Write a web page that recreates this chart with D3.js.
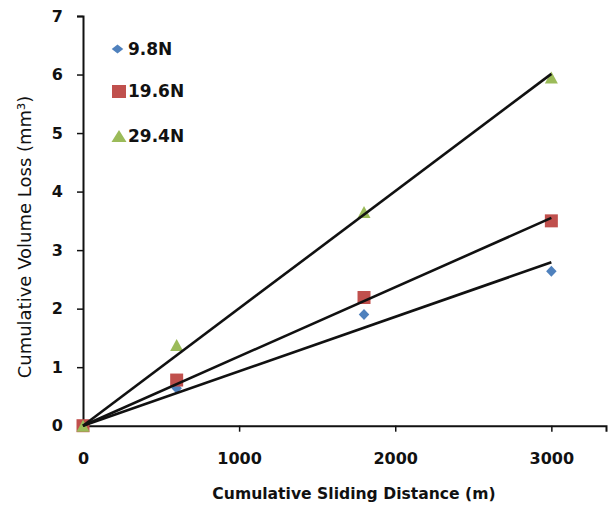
<!DOCTYPE html>
<html>
<head>
<meta charset="utf-8">
<script src="https://cdn.jsdelivr.net/npm/d3@7"></script>
<style>
  html, body { margin: 0; padding: 0; background: #fff; }
  svg { display: block; }
  text { font-family: "DejaVu Sans", "Liberation Sans", sans-serif; fill: #111; }
</style>
</head>
<body>
<svg id="chart" width="609" height="508"></svg>
<script>
// Cumulative volume loss against sliding distance for three normal loads
const distances = [0, 600, 1800, 3000];
const loadLabels = ["9.8N", "19.6N", "29.4N"];
const loss98 = [0, 0.64, 1.90, 2.64];
const loss196 = [0, 0.78, 2.19, 3.50];
const loss294 = [0, 1.38, 3.65, 5.95];
const xTicks = [0, 1000, 2000, 3000];
const yTicks = [0, 1, 2, 3, 4, 5, 6, 7];

const colors = ["#4F81BD", "#C0504D", "#9BBB59"];

// marker drawers: diamond (rotated square), square, triangle
function markerPath(kind, w, h) {
  const p = d3.path();
  if (kind === 0) {
    p.moveTo(0, -h / 2); p.lineTo(w / 2, 0); p.lineTo(0, h / 2); p.lineTo(-w / 2, 0);
  } else if (kind === 1) {
    p.rect(-w / 2, -h / 2, w, h);
  } else {
    p.moveTo(0, -h / 2); p.lineTo(w / 2, h / 2); p.lineTo(-w / 2, h / 2);
  }
  p.closePath();
  return p.toString();
}
const plotMarkerDims = [[10.5, 11], [13, 13], [13, 12]];
const legendMarkerDims = [[11.5, 9], [14, 13], [15, 12]];

const series = [loss98, loss196, loss294].map((vals, i) => ({
  name: loadLabels[i],
  color: colors[i],
  kind: i,
  points: distances.map((d, j) => ({ x: d, y: vals[j] }))
}));

const svg = d3.select("#chart");

const x = d3.scaleLinear().domain([0, 3350]).range([83, 606]);
const y = d3.scaleLinear().domain([0, 7]).range([425.7, 16]);

// Axes
const xAxis = d3.axisBottom(x).tickValues(xTicks).tickSize(6).tickPadding(21).tickFormat(d3.format("d"));
const yAxis = d3.axisLeft(y).tickValues(yTicks).tickSize(6).tickPadding(14).tickFormat(d3.format("d"));

const gx = svg.append("g").attr("transform", `translate(0,${y(0)})`).call(xAxis);
const gy = svg.append("g").attr("transform", `translate(${x(0)},0)`).call(yAxis);

[gx, gy].forEach(g => {
  g.select(".domain").attr("stroke", "#111").attr("stroke-width", 2);
  g.selectAll(".tick line").attr("stroke", "#111").attr("stroke-width", 1.5);
  g.selectAll(".tick text")
    .attr("fill", "#111")
    .style("font-family", '"DejaVu Sans", sans-serif')
    .style("font-weight", "700")
    .style("font-size", "16px");
});

// Axis titles
svg.append("text")
  .attr("x", 354).attr("y", 499)
  .attr("text-anchor", "middle")
  .style("font-weight", "700").style("font-size", "15.6px")
  .text("Cumulative Sliding Distance (m)");

svg.append("text")
  .attr("transform", "translate(31,237) rotate(-90)")
  .attr("text-anchor", "middle")
  .style("font-weight", "400").style("font-size", "18px")
  .text("Cumulative Volume Loss (mm³)");

// Markers
series.forEach(s => {
  const [w, h] = plotMarkerDims[s.kind];
  svg.append("g").selectAll("path")
    .data(s.points)
    .join("path")
    .attr("transform", d => `translate(${x(d.x)},${y(d.y)})`)
    .attr("d", markerPath(s.kind, w, h))
    .attr("fill", s.color);
});

// Linear trend lines through the origin (least squares)
series.forEach(s => {
  const sxy = d3.sum(s.points, p => p.x * p.y);
  const sxx = d3.sum(s.points, p => p.x * p.x);
  const slope = sxy / sxx;
  const xEnd = d3.max(distances);
  svg.append("line")
    .attr("x1", x(0)).attr("y1", y(0))
    .attr("x2", x(xEnd)).attr("y2", y(slope * xEnd))
    .attr("stroke", "#111")
    .attr("stroke-width", 2.6);
});

// Legend
const legendMarkerPos = [[117.5, 49], [119, 91.5], [119, 136]];
const legendBaseline = [55, 97, 142];
const legend = svg.append("g");
series.forEach((s, i) => {
  const [w, h] = legendMarkerDims[i];
  legend.append("path")
    .attr("transform", `translate(${legendMarkerPos[i][0]},${legendMarkerPos[i][1]})`)
    .attr("d", markerPath(s.kind, w, h))
    .attr("fill", s.color);
  legend.append("text")
    .attr("x", 128).attr("y", legendBaseline[i])
    .style("font-weight", "700").style("font-size", "17px")
    .text(s.name);
});
</script>
</body>
</html>
